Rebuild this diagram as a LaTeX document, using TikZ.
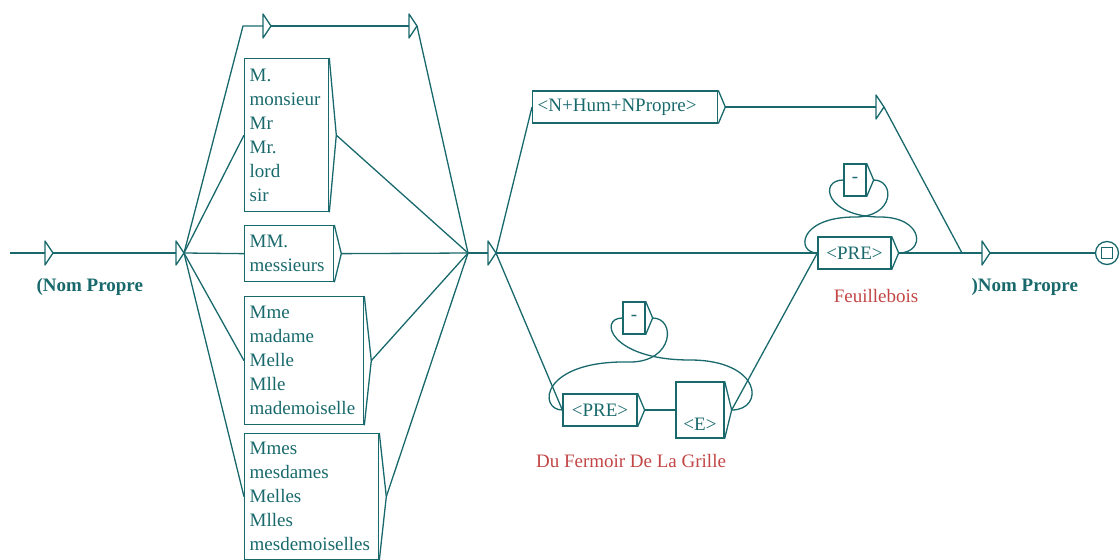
\documentclass[tikz,border=0pt]{standalone}
\usepackage{fontspec}
\setmainfont{Liberation Serif}
\usetikzlibrary{calc}
\definecolor{gteal}{RGB}{25,105,108}
\definecolor{gred}{RGB}{195,70,70}
\begin{document}
\begin{tikzpicture}[x=1pt,y=-1pt,
  gline/.style={draw=gteal, line width=1.3pt, line join=round},
  gbox/.style={draw=gteal, line width=1.3pt, inner xsep=5pt, inner ysep=0pt,
    align=left, text=gteal, font=\fontsize{19}{24}\selectfont},
  gout/.style={text=gred, font=\fontsize{19}{24}\selectfont},
  glabel/.style={text=gteal, font=\fontsize{19}{24}\selectfont\bfseries},
  etri/.pic={
    \draw[gline] (0,-12) -- (0,12) -- (8,0) -- cycle;
    \coordinate (-in) at (0,0);
    \coordinate (-out) at (8,0);
  }
]
\useasboundingbox (0,0) rectangle (1120,560);
\clip (0,0) rectangle (1120,560);

% title boxes
\node[gbox, anchor=north west, text width=74pt, minimum height=153pt] (b1) at (244,58)
  {M.\\monsieur\\Mr\\Mr.\\lord\\sir};
\node[gbox, anchor=north west, text width=79pt, minimum height=56pt] (b2) at (244,225)
  {MM.\\messieurs};
\node[gbox, anchor=north west, text width=109pt, minimum height=128pt] (b3) at (244,296)
  {Mme\\madame\\Melle\\Mlle\\mademoiselle};
\node[gbox, anchor=north west, text width=124pt, minimum height=126pt] (b4) at (244,433)
  {Mmes\\mesdames\\Melles\\Mlles\\mesdemoiselles};

% name boxes
\node[gbox, anchor=west, text width=175pt, minimum height=32pt] (nh) at (532,107) {<N+Hum+NPropre>};
\node[gbox, align=center, text width=63pt, minimum height=32pt] (p2) at (854.5,253) {<PRE>};
\node[gbox, align=center, text width=12pt, minimum height=32pt] (d2) at (855,180) {-};
\node[gbox, align=center, text width=64pt, minimum height=32pt] (p1) at (600,410) {<PRE>};
\node[gbox, align=center, text width=12pt, minimum height=32pt] (d1) at (634,318) {-};
\node[gbox, align=center, text width=38pt, minimum height=56pt] (e1) at (700,410) {\strut\\<E>};

% right-hand points of the boxes
\foreach \b in {b1,b2,b3,b4,nh,p2,d2,p1,d1,e1}{
  \coordinate (\b t) at ($(\b.east)+(7,0)$);
  \draw[gline] (\b.north east) -- (\b t) -- (\b.south east);
}

% outputs and labels
\node[gout, anchor=base] (o1) at (631,467) {Du Fermoir De La Grille};
\node[gout, anchor=base] (o2) at (876,302) {Feuillebois};
\node[glabel, anchor=base west] (l1) at (33,291) {(Nom Propre};
\node[glabel, anchor=base west] (l2) at (968,291) {)Nom Propre};

% empty transitions
\pic (t0) at (45,253) {etri};
\pic (t1) at (176,253) {etri};
\pic (tA) at (263,26) {etri};
\pic (tB) at (409,26) {etri};
\pic (t2) at (488,253) {etri};
\pic (tC) at (876,107) {etri};
\pic (t3) at (982,253) {etri};

% final state
\node[draw=gteal, line width=1.3pt, circle, minimum size=23pt, inner sep=0pt] (fin) at (1107,253) {};
\node[draw=gteal, line width=1.3pt, minimum size=11pt, inner sep=0pt] (fsq) at (fin.center) {};

\coordinate (start) at (10,253);
\coordinate (c1) at (243,26);
\coordinate (j1) at (468,253);
\coordinate (j2) at (962,253);

% connectors
\draw[gline] (start) -- (t0-in);
\draw[gline] (t0-out) -- (t1-in);
\draw[gline] (t1-out) -- (c1) -- (tA-in);
\draw[gline] (tA-out) -- (tB-in);
\draw[gline] (tB-out) -- (j1);
\foreach \b in {b1,b2,b3,b4}{
  \draw[gline] (t1-out) -- (\b.west);
  \draw[gline] (\b t) -- (j1);
}
\draw[gline] (j1) -- (t2-in);
\draw[gline] (t2-out) -- (nh.west);
\draw[gline] (nht) -- (tC-in);
\draw[gline] (tC-out) -- (j2);
\draw[gline] (t2-out) -- (p2.west);
\draw[gline] (p2t) -- (t3-in);
\draw[gline] (t3-out) -- (fin.west);
\draw[gline] (t2-out) -- (p1.west);
\draw[gline] (p1t) -- (e1.west);
\draw[gline] (e1t) -- (p2.west);

% loops through the hyphen boxes
\draw[gline] (e1t) .. controls (765,410) and (762,360) .. (690,360)
  .. controls (610,360) and (598,318) .. (d1.west);
\draw[gline] (d1t) .. controls (676,318) and (674,362) .. (630,362)
  .. controls (540,360) and (538,410) .. (p1.west);
\draw[gline] (p2t) .. controls (926,253) and (924,217) .. (880,217)
  .. controls (826,217) and (818,180) .. (d2.west);
\draw[gline] (d2t) .. controls (895,180) and (895,217) .. (855,217)
  .. controls (798,217) and (796,253) .. (p2.west);
\end{tikzpicture}
\end{document}
